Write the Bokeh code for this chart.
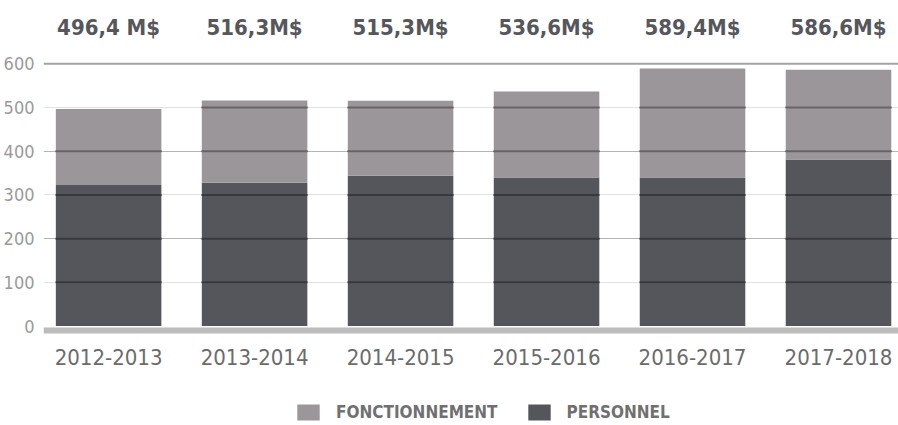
from bokeh.plotting import figure
from bokeh.models import (ColumnDataSource, Range1d, FixedTicker, Span, Legend,
                          LegendItem, Grid)
from bokeh.core.properties import value
from bokeh.embed import file_html
from bokeh.resources import INLINE

# ---- data ----
years = ["2012-2013", "2013-2014", "2014-2015", "2015-2016", "2016-2017", "2017-2018"]
totals = [496.4, 516.3, 515.3, 536.6, 589.4, 586.6]
personnel = [323, 328, 344, 340, 340, 381]
total_labels = ["496,4 M$", "516,3M$", "515,3M$", "536,6M$", "589,4M$", "586,6M$"]
y_ticks = [0, 100, 200, 300, 400, 500, 600]
series_names = ["FONCTIONNEMENT", "PERSONNEL"]

fonctionnement = [t - p for t, p in zip(totals, personnel)]
xs = list(range(len(years)))

C_LIGHT = "#9b9699"
C_DARK = "#55565b"
BAR_W = 0.723
LABEL_Y = 683     # position of the total labels (data units)
XLAB_Y = -70      # position of the category labels (data units)

src = ColumnDataSource(dict(x=xs, personnel=personnel, fonctionnement=fonctionnement,
                            lab=total_labels, cat=years))

p = figure(width=898, height=425, output_backend="svg", toolbar_location=None,
           x_range=Range1d(-0.446, 5.411), y_range=Range1d(-227.7, 745))
p.min_border_left = 40
p.min_border_right = 0
p.min_border_top = 0
p.min_border_bottom = 0
p.outline_line_color = None
p.background_fill_color = "white"

# grid
p.xgrid.grid_line_color = None
p.ygrid.ticker = FixedTicker(ticks=[100, 300, 500])
p.ygrid.grid_line_color = "#e2e2e2"
p.ygrid.grid_line_width = 1
g2 = Grid(dimension=1, ticker=FixedTicker(ticks=[200, 400]),
          grid_line_color="#b4b4b4", grid_line_width=1)
p.add_layout(g2)

bars = p.vbar_stack(["personnel", "fonctionnement"], x="x", width=BAR_W, source=src,
                    color=[C_DARK, C_LIGHT], line_color=None)

# darker grid lines over the bars
sx0, sx1, sy = [], [], []
for i, t in zip(xs, totals):
    for tk in y_ticks[1:-1]:
        if tk < t:
            sx0.append(i - BAR_W / 2 - 0.005)
            sx1.append(i + BAR_W / 2 + 0.005)
            sy.append(tk)
p.segment(x0=sx0, x1=sx1, y0=sy, y1=sy, line_color="black", line_alpha=0.33, line_width=2)

# top line at 600 and baseline
p.add_layout(Span(location=y_ticks[-1], dimension="width", line_color="#a3a3a3", line_width=2))
p.add_layout(Span(location=-10.3, dimension="width", line_color="#bcbcbc", line_width=6))

# totals labels
p.text(x="x", y=LABEL_Y, text="lab", source=src, text_align="center", text_baseline="middle",
       text_font=value("DejaVu Sans Condensed"), text_font_style="bold",
       text_font_size="22px", text_color="#55575c")

# category labels
p.text(x="x", y=XLAB_Y, text="cat", source=src, text_align="center", text_baseline="middle",
       text_font=value("DejaVu Sans Condensed"), text_font_size="22px", text_color="#6b6b6b")

# axes
p.yaxis.ticker = FixedTicker(ticks=y_ticks)
p.yaxis.axis_line_color = None
p.yaxis.major_tick_line_color = None
p.yaxis.minor_tick_line_color = None
p.yaxis.major_label_standoff = 3
p.yaxis.major_label_text_font = "DejaVu Sans Condensed"
p.yaxis.major_label_text_font_size = "18px"
p.yaxis.major_label_text_color = "#9a9a9a"
p.xaxis.visible = False

# legend
legend = Legend(items=[LegendItem(label=series_names[0], renderers=[bars[1]], index=0),
                       LegendItem(label=series_names[1], renderers=[bars[0]], index=0)],
                orientation="horizontal", location=(251, 3),
                glyph_width=28, glyph_height=20, label_standoff=14, spacing=27,
                padding=0, margin=0, border_line_color=None, background_fill_alpha=0,
                label_text_font="DejaVu Sans Condensed", label_text_font_style="bold",
                label_text_font_size="17px", label_text_color="#707070",
                label_height=20)
p.add_layout(legend, "center")

open("out.html", "w").write(file_html(p, INLINE))
